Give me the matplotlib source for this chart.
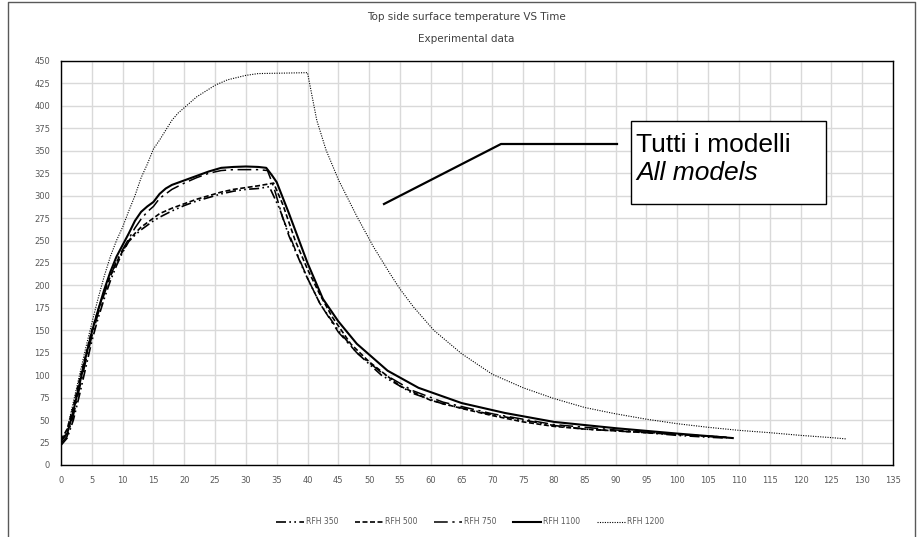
import matplotlib
matplotlib.use("Agg")
import matplotlib.pyplot as plt
from matplotlib.lines import Line2D

# time (min) and temperature (C)
x350 = [0, 1, 2, 3, 4, 5, 6, 7, 8, 9, 10, 11, 12, 13, 14, 15, 16, 18, 20, 22, 24, 26, 28, 30, 32, 33.8,
        35.5, 37, 39.5, 42, 45, 48, 52, 57, 62, 66, 70, 75, 80, 85, 90, 95, 100, 105, 108]
y350 = [22, 30, 50, 78, 108, 138, 163, 185, 205, 222, 237, 249, 256, 262, 267, 272, 276, 283, 289, 294, 298, 302, 305, 307, 308, 310,
        285, 255, 215, 180, 150, 125, 100, 80, 68, 62, 56, 50, 44, 40, 38, 36, 33, 31, 30]

x500 = [0, 1, 2, 3, 4, 5, 6, 7, 8, 9, 10, 11, 12, 13, 14, 15, 16, 18, 20, 22, 24, 26, 28, 30, 32, 34.5,
        36, 38, 40, 42, 44, 47, 50, 55, 60, 65, 70, 75, 80, 85, 90, 95, 100, 105, 108]
y500 = [28, 40, 65, 95, 122, 150, 172, 193, 210, 226, 238, 250, 258, 265, 270, 275, 280, 286, 291, 296, 300, 304, 307, 309, 311, 314,
        290, 250, 218, 190, 165, 135, 115, 88, 72, 63, 55, 48, 43, 40, 38, 36, 34, 32, 31]

x750 = [0, 1, 2, 3, 4, 5, 6, 7, 8, 9, 10, 11, 12, 13, 14, 15, 16, 18, 20, 22, 24, 26, 28, 30, 32, 33.5,
        34.5, 36, 38, 40, 42, 45, 48, 52, 57, 62, 70, 80, 90, 100, 108]
y750 = [24, 32, 55, 85, 115, 143, 168, 190, 210, 227, 240, 252, 264, 274, 282, 288, 297, 307, 314, 320, 325, 328, 329, 329, 329, 328,
        310, 275, 240, 208, 180, 148, 125, 103, 83, 70, 57, 45, 39, 34, 31]

x1100 = [0, 1, 2, 3, 4, 5, 6, 7, 8, 9, 10, 11, 12, 13, 14, 15, 16, 17, 18, 20, 22, 24, 26, 28, 30, 32, 33.3,
         34.2, 35, 37, 40, 42.5, 45, 48, 53, 58, 65, 72, 80, 90, 100, 109]
y1100 = [27, 35, 60, 90, 120, 148, 172, 195, 215, 232, 245, 258, 272, 282, 288, 293, 302, 308, 312, 317, 322, 327, 331, 332, 332.5, 332, 331,
         323, 315, 280, 225, 185, 160, 135, 105, 86, 69, 58, 48, 41, 35, 30]

x1200 = [0, 1, 2, 3, 4, 5, 6, 7, 8, 9, 10, 11, 12, 13, 14, 15, 16, 17, 18, 19, 20, 22, 25, 27, 30, 32, 40,
         41.5, 43, 45, 48, 50.7, 53.4, 55, 57.2, 60.5, 65, 70, 75, 80, 85, 90, 95, 100, 105, 110, 115, 120, 125, 127.5]
y1200 = [25, 40, 70, 100, 130, 158, 185, 210, 232, 250, 265, 283, 300, 320, 335, 352, 362, 373, 384, 392, 398, 410, 423, 429, 434, 436, 437,
         384, 351, 318, 277, 243, 213, 196, 176, 150, 124, 101, 86, 74, 64, 57, 51, 46, 42, 38.6, 36, 33, 30.5, 29]

labels = ["RFH 350", "RFH 500", "RFH 750", "RFH 1100", "RFH 1200"]

fig = plt.figure(figsize=(9.18, 5.37), dpi=100)
ax = fig.add_axes([61/918, 1-465/537, (893-61)/918, (465-61)/537])

ax.plot(x350, y350, color="black", lw=1.2, ls=(0, (6, 2, 1, 2, 1, 2)), label=labels[0])
ax.plot(x500, y500, color="black", lw=1.2, ls=(0, (3, 1.5)), label=labels[1])
ax.plot(x750, y750, color="black", lw=1.1, ls=(0, (9, 3, 1.5, 3)), label=labels[2])
ax.plot(x1100, y1100, color="black", lw=1.5, ls="-", label=labels[3])
ax.plot(x1200, y1200, color="black", lw=0.8, ls=(0, (1, 1.2)), label=labels[4])

ax.set_xlim(0, 135)
ax.set_ylim(0, 450)
ax.set_xticks(range(0, 136, 5))
ax.set_yticks(range(0, 451, 25))
ax.grid(True, color="#d9d9d9", lw=1)
ax.set_axisbelow(True)
ax.tick_params(length=0, labelsize=6, colors="#595959", pad=8)
for s in ax.spines.values():
    s.set_color("black")
    s.set_linewidth(1)

fig.text(466/918, 1-17/537, "Top side surface temperature VS Time", ha="center", va="center",
         fontsize=7.5, color="#404040")
fig.text(466/918, 1-39/537, "Experimental data", ha="center", va="center",
         fontsize=7.5, color="#404040")

# callout
fig.add_artist(Line2D([384/918, 501/918, 617/918], [1-204/537, 1-144/537, 1-144/537],
                      color="black", lw=1.6))
fig.patches.append(plt.Rectangle((631/918, 1-204/537), (826-631)/918, (204-121)/537,
                                 transform=fig.transFigure, fill=True, facecolor="white",
                                 edgecolor="black", lw=1, figure=fig))
fig.text(636/918, 1-152/537, "Tutti i modelli", fontsize=19, family="Liberation Sans",
         va="baseline", ha="left")
fig.text(636/918, 1-180/537, "All models", fontsize=19, family="Liberation Sans",
         style="italic", va="baseline", ha="left")

leg = fig.legend(loc="center", bbox_to_anchor=(470/918, 1-522/537), ncol=5, frameon=False,
                 fontsize=5.5, handlelength=3.6, handletextpad=0.3, columnspacing=2.2)
for t in leg.get_texts():
    t.set_color("#595959")

# outer frame
fig.add_artist(Line2D([8/918, 8/918, 915/918, 915/918], [0, 1-2/537, 1-2/537, 0],
                      color="#595959", lw=1))

fig.savefig("out.png", dpi=100)
